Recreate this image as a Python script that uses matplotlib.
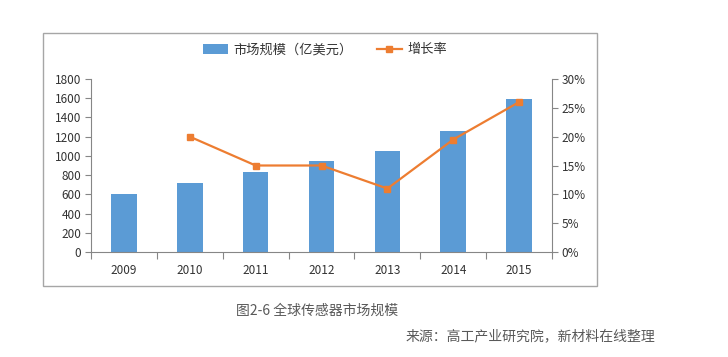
import matplotlib
matplotlib.use("Agg")
import matplotlib.pyplot as plt
from matplotlib.patches import Rectangle
from matplotlib.ticker import FixedLocator, FuncFormatter
import numpy as np

plt.rcParams['font.family'] = ['Noto Sans CJK SC', 'DejaVu Sans']

years = ['2009', '2010', '2011', '2012', '2013', '2014', '2015']
market_size = [600, 720, 830, 950, 1050, 1260, 1590]
growth_years = ['2010', '2011', '2012', '2013', '2014', '2015']
growth_rate = [20, 15, 15, 11, 19.5, 26]
left_ticks = [0, 200, 400, 600, 800, 1000, 1200, 1400, 1600, 1800]
right_ticks = [0, 5, 10, 15, 20, 25, 30]

bar_color = '#5B9BD5'
line_color = '#ED7D31'
axis_color = '#868686'
text_color = '#333333'

fig = plt.figure(figsize=(7.28, 3.57), dpi=100)
fig.patch.set_facecolor('white')

# outer chart frame
fig.patches.append(Rectangle((43/728, 1-286/357), (597-43)/728, (286-33)/357,
                             transform=fig.transFigure, fill=False,
                             edgecolor='#A6A6A6', linewidth=1.0))

ax = fig.add_axes([91/728, 1-252/357, (552-91)/728, (252-79)/357])
x = np.arange(len(years))
bars = ax.bar(x, market_size, width=0.39, color=bar_color, label='市场规模（亿美元）', zorder=2)
ax.set_xlim(-0.5, len(years)-0.5)
ax.set_ylim(0, 1800)
ax.set_yticks(left_ticks)
ax.set_xticks(x)
ax.set_xticklabels(years)
ax.xaxis.set_minor_locator(FixedLocator(np.arange(-0.5, len(years), 1.0)))
ax.tick_params(axis='x', which='major', length=0, pad=9, labelsize=8.5, labelcolor=text_color)
ax.tick_params(axis='x', which='minor', length=5, color=axis_color, width=0.8)
ax.tick_params(axis='y', length=4, color=axis_color, width=0.8, labelsize=8.5,
               labelcolor=text_color, pad=3)
for s in ['top', 'right']:
    ax.spines[s].set_visible(False)
for s in ['left', 'bottom']:
    ax.spines[s].set_color(axis_color)
    ax.spines[s].set_linewidth(0.8)

ax2 = ax.twinx()
gx = [years.index(y) for y in growth_years]
line, = ax2.plot(gx, growth_rate, color=line_color, linewidth=1.6, marker='s',
                 markersize=4.5, label='增长率', zorder=3)
ax2.set_ylim(0, 30)
ax2.set_yticks(right_ticks)
ax2.yaxis.set_major_formatter(FuncFormatter(lambda v, p: f'{int(v)}%'))
ax2.tick_params(axis='y', length=4, color=axis_color, width=0.8, labelsize=8.5,
                labelcolor=text_color, pad=3)
for s in ['top', 'left', 'bottom']:
    ax2.spines[s].set_visible(False)
ax2.spines['right'].set_color(axis_color)
ax2.spines['right'].set_linewidth(0.8)

fig.legend(handles=[bars, line], labels=['市场规模（亿美元）', '增长率'],
           loc='center', bbox_to_anchor=(325/728, 1-50/357), ncol=2, frameon=False,
           fontsize=9.5, handlelength=1.9, handleheight=0.7, columnspacing=1.8,
           handletextpad=0.4, labelcolor=text_color)

fig.text(236/728, 1-311/357, '图2-6 全球传感器市场规模', fontsize=10, color='#595959',
         ha='left', va='center')
fig.text(655/728, 1-336/357, '来源：高工产业研究院，新材料在线整理', fontsize=10,
         color='#595959', ha='right', va='center', style='italic')

fig.savefig('out.png', dpi=100, facecolor='white')
